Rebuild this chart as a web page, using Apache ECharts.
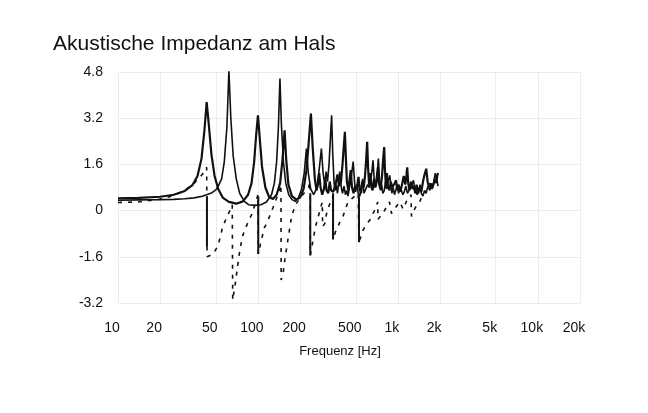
<!DOCTYPE html>
<html>
<head>
<meta charset="utf-8">
<script src="https://cdn.jsdelivr.net/npm/echarts/dist/echarts.min.js"></script>
<style>
html,body{margin:0;padding:0;background:#fff;}
#chart{width:648px;height:413px;}
</style>
</head>
<body>
<div id="chart"></div>
<script>
// ---- data ----
const xTickValues = [10, 20, 50, 100, 200, 500, 1000, 2000, 5000, 10000, 20000];
const xTickLabels = ['10', '20', '50', '100', '200', '500', '1k', '2k', '5k', '10k', '20k'];
const yTicks = [-3.2, -1.6, 0, 1.6, 3.2, 4.8];

// curve A (thick)
const freqA = [10,14,20,25,30,34,37,39.5,41.5,43,44.5,46.5,49,52,56,62,70,78,85,90,94,97,100,103,107,113,120,128,136,144,150,155,159,165,175,188,200,212,222,230,239,246,255,262,268,274,280,288,296,303,309,318,326,333,345,358,370,380,392,402,410,418,425,432,442,452,460,470,482,495,507,515,523,532,545,558,570,582,592,603,612,622,635,648,660,675,690,705,720,735,752,770,785,798,808,820,835,850,870,890,910,930,950,970,990,1010,1040,1070,1100,1130,1150,1165,1185,1210,1240,1270,1300,1330,1360,1398,1430,1470,1510,1550,1594,1630,1670,1710,1747,1790,1840,1880,1910,1935];
const valA  = [0.42,0.44,0.48,0.55,0.68,0.88,1.2,1.8,2.8,3.76,3.0,1.95,1.2,0.75,0.45,0.3,0.24,0.32,0.55,0.95,1.7,2.6,3.3,2.5,1.5,0.8,0.48,0.4,0.55,0.95,1.8,2.78,1.8,0.9,0.5,0.38,0.45,0.75,1.4,2.3,3.36,2.2,1.1,0.7,0.9,1.3,0.8,0.55,0.75,1.1,0.7,0.6,1.0,0.7,0.65,0.9,1.25,0.85,1.0,1.6,2.2,2.73,1.8,1.0,0.7,1.1,1.4,0.8,0.6,0.85,0.75,0.95,1.17,0.75,0.6,1.0,0.8,1.2,1.7,2.38,1.5,0.9,1.3,0.8,0.7,1.1,0.8,1.0,1.5,0.9,0.75,1.2,1.8,2.2,1.4,0.9,1.3,0.8,0.7,1.0,0.8,0.75,0.95,1.05,0.7,0.9,0.65,0.9,1.2,0.9,1.2,1.5,0.95,0.7,1.0,0.75,0.85,0.6,0.9,0.6,0.8,0.65,1.0,1.25,1.45,1.0,0.8,0.95,0.75,0.9,1.1,0.95,1.2,1.3];

// curve B (thin)
const freqB = [10,14,20,25,30,35,40,43,47,50,52,55,57.5,60,62,64,66.5,70,74,80,86,95,105,115,125,131,136,140,143.6,147,152,158,166,175,185,195,205,214,222,229,238,250,262,272,284,292,300,307,314,322,330,336,342,350,356,362,370,377,384,394,402,412,422,432,440,450,460,468,479,490,498,510,520,535,548,560,572,590,608,625,640,650,664,678,692,705,715,725,738,750,765,780,800,815,830,845,860,875,892,905,925,945,965,990,1010,1040,1060,1085,1110,1140,1170,1200,1230,1260,1292,1320,1350,1375,1400,1440,1470,1510,1550,1590,1640,1690,1747,1780,1810,1850,1885,1910,1935];
const valB  = [0.36,0.37,0.38,0.39,0.41,0.44,0.5,0.55,0.62,0.72,0.85,1.1,1.7,2.9,4.85,3.2,1.9,1.1,0.6,0.32,0.2,0.18,0.2,0.3,0.55,0.95,1.7,2.9,4.57,3.0,1.7,0.95,0.55,0.38,0.32,0.45,0.75,1.3,2.15,1.3,0.75,0.55,0.75,1.3,2.15,1.3,0.9,1.35,1.0,1.6,2.6,3.3,2.0,0.95,0.7,0.9,0.6,0.95,1.35,0.8,0.6,0.85,0.55,0.7,0.5,0.8,1.0,1.3,1.7,1.0,0.65,0.9,0.6,0.5,0.85,1.1,0.6,0.65,0.9,0.8,1.1,1.3,1.74,1.0,0.85,1.2,1.4,1.8,1.1,0.7,0.9,0.6,0.7,1.0,0.75,0.95,1.0,1.22,0.85,0.6,0.8,0.55,0.7,0.9,0.6,0.8,0.7,0.55,0.65,0.85,0.6,0.7,0.8,0.9,1.05,0.75,0.8,0.55,0.65,0.9,0.6,0.5,0.7,0.6,0.85,0.7,0.93,0.8,1.05,1.3,1.25,1.0,0.85];

// curve C (dashed, phase-like)
const freqC = [10,14,20,25,30,35,40,43,43.3,48,52,56,59,63,65.5,66,69,73,75,78,86,90,95,100,100.5,106,111,117,128,140,146,146.5,151,156,165,174,185,205,230,236,236.5,248,258,270,288,290,300,312,330,343,344,360,385,405,440,520,527,560,600,630,680,718,720,780,870,900,960,1030,1090,1170,1240,1250,1330,1433,1480];
const valC  = [0.28,0.3,0.4,0.52,0.7,0.95,1.25,1.5,-1.6,-1.5,-1.2,-0.56,-0.3,0.0,0.2,-3.1,-2.5,-1.6,-1.25,-0.85,-0.33,-0.15,0.2,0.55,-1.5,-1.0,-0.6,-0.38,0.1,0.6,0.9,-2.4,-2.2,-1.66,-0.9,-0.2,0.2,0.5,0.8,1.0,-1.55,-1.0,-0.55,-0.2,0.3,-0.55,-0.45,0.0,0.3,0.5,-1.0,-0.7,-0.4,-0.2,0.3,0.6,-1.1,-0.7,-0.45,-0.33,0.0,0.3,-0.3,-0.1,0.3,-0.1,0.1,0.3,0.05,0.4,0.55,-0.2,0.1,0.3,0.5];

// solid jumps of the phase-like curve
const dropFreq   = [43.2, 100.5, 236.5, 344, 527];
const dropTop    = [0.5, 0.5, 0.6, 0.6, 0.5];
const dropBottom = [-1.25, -1.5, -1.55, -1.0, -1.1];

const pairs = (f, v) => f.map((x, i) => [x, v[i]]);
const dropData = [];
dropFreq.forEach((f, i) => { dropData.push([f, dropTop[i]], [f, dropBottom[i]], [f, null]); });

const font = "'Liberation Sans', Arial, sans-serif";
const ink = '#111';

const chart = echarts.init(document.getElementById('chart'), null, {renderer: 'canvas'});
chart.setOption({
  animation: false,
  backgroundColor: '#fff',
  title: {
    text: 'Akustische Impedanz am Hals',
    left: 53, top: 34, padding: 0,
    textStyle: {fontFamily: font, fontSize: 21, fontWeight: 'normal', color: ink}
  },
  grid: {left: 118, right: 68, top: 72, bottom: 110},
  xAxis: {
    type: 'log', logBase: 10, min: 10, max: 20000,
    name: 'Frequenz [Hz]', nameLocation: 'middle', nameGap: 42,
    nameTextStyle: {fontFamily: font, fontSize: 13, color: ink, padding: [0, 18, 0, 0]},
    axisLine: {show: false},
    axisTick: {show: false, customValues: xTickValues},
    axisLabel: {
      customValues: xTickValues,
      margin: 18, fontFamily: font, fontSize: 14, color: ink,
      padding: [0, 12, 0, 0],
      formatter: v => {
        const i = xTickValues.findIndex(t => Math.abs(t - v) / t < 1e-6);
        return i >= 0 ? xTickLabels[i] : '';
      }
    },
    splitLine: {show: true, lineStyle: {color: '#ececec', width: 1}}
  },
  yAxis: {
    type: 'value', min: yTicks[0], max: yTicks[yTicks.length - 1], interval: 1.6,
    axisLine: {show: false}, axisTick: {show: false},
    axisLabel: {margin: 15, fontFamily: font, fontSize: 14, color: ink,
      formatter: v => String(Number(v.toFixed(1)))},
    splitLine: {show: true, lineStyle: {color: '#ececec', width: 1}}
  },
  series: [
    {type: 'line', name: 'A', data: pairs(freqA, valA), symbol: 'none',
     lineStyle: {color: ink, width: 2.2}, z: 3},
    {type: 'line', name: 'B', data: pairs(freqB, valB), symbol: 'none',
     lineStyle: {color: ink, width: 1.6}, z: 3},
    {type: 'line', name: 'C', data: pairs(freqC, valC), symbol: 'none',
     lineStyle: {color: ink, width: 1.6, type: [4, 6]}, z: 2},
    {type: 'line', name: 'D', data: dropData, symbol: 'none', connectNulls: false,
     lineStyle: {color: ink, width: 2}, z: 2}
  ]
});
</script>
</body>
</html>
